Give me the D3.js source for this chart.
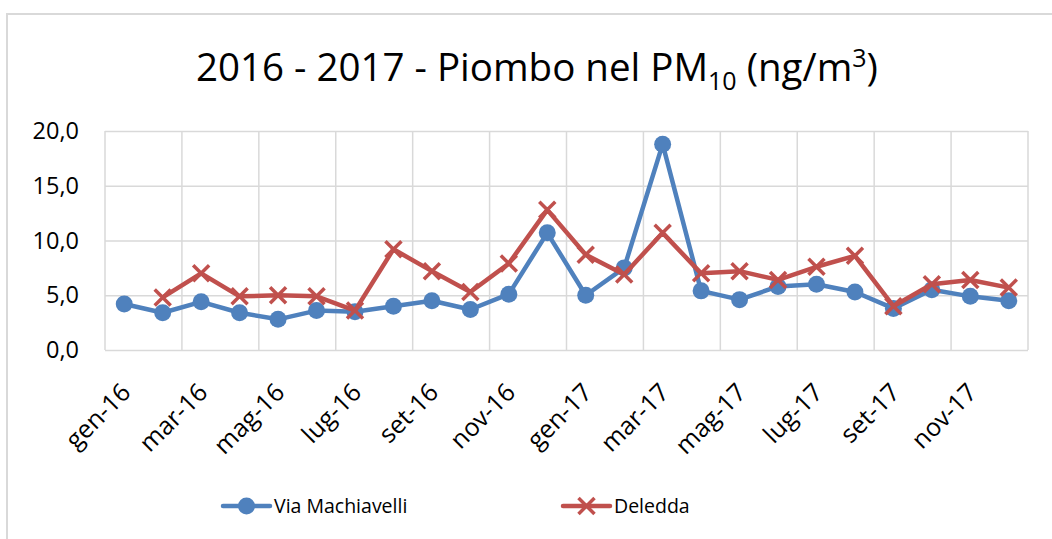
<!DOCTYPE html>
<meta charset="utf-8">
<script src="https://d3js.org/d3.v7.min.js"></script>
<div id="chart"></div>
<style>
	body {
		margin: 0;
		padding: 0;
		background: #fff;
		overflow: hidden;
	}
	text {
		font-family: "Open Sans", sans-serif;
		fill: #000;
	}
</style>
<script>
	// months shown on the category axis (Italian short names)
	const months = ["gen-16", "feb-16", "mar-16", "apr-16", "mag-16", "giu-16", "lug-16", "ago-16", "set-16", "ott-16", "nov-16", "dic-16",
		"gen-17", "feb-17", "mar-17", "apr-17", "mag-17", "giu-17", "lug-17", "ago-17", "set-17", "ott-17", "nov-17", "dic-17"];
	const machiavelli = [4.2, 3.4, 4.4, 3.4, 2.8, 3.6, 3.5, 4.0, 4.5, 3.7, 5.1, 10.7, 5.0, 7.5, 18.8, 5.4, 4.6, 5.8, 6.0, 5.3, 3.8, 5.5, 4.9, 4.5];
	const deledda = [null, 4.8, 7.0, 4.9, 5.0, 4.9, 3.6, 9.2, 7.2, 5.3, 7.9, 12.8, 8.7, 6.9, 10.7, 7.0, 7.2, 6.4, 7.6, 8.6, 4.0, 6.0, 6.4, 5.7];
	const yTicks = [0, 5, 10, 15, 20];
	const seriesNames = ["Via Machiavelli", "Deledda"];

	const WIDTH = 1052, HEIGHT = 539;
	const BLUE = "#4f81bd", RED = "#c0504d", GRID = "#d9d9d9";
	const plot = { left: 105, right: 1028, top: 131, bottom: 350 };

	const svg = d3.select("#chart").append("svg")
		.attr("width", WIDTH)
		.attr("height", HEIGHT);

	// outer chart border (cropped at right/bottom in the original)
	svg.append("rect")
		.attr("x", 7).attr("y", 14)
		.attr("width", WIDTH + 20).attr("height", HEIGHT + 20)
		.attr("fill", "none")
		.attr("stroke", GRID)
		.attr("stroke-width", 2);

	const x = d3.scaleBand().domain(months).range([plot.left, plot.right]).padding(0);
	const y = d3.scaleLinear().domain([0, 20]).range([plot.bottom, plot.top]);
	const itFormat = d3.formatLocale({ decimal: ",", thousands: ".", grouping: [3], currency: ["€", ""] }).format(".1f");

	// horizontal gridlines + y labels
	const yAxis = svg.append("g")
		.attr("transform", `translate(${plot.left},0)`)
		.call(d3.axisLeft(y).tickValues(yTicks).tickFormat(itFormat).tickSize(-(plot.right - plot.left)).tickPadding(26));
	yAxis.select(".domain").remove();
	yAxis.selectAll("line").attr("stroke", GRID).attr("stroke-width", 1.5);
	yAxis.selectAll("text").attr("font-size", 23.5).attr("fill", "#000").attr("font-family", "Open Sans");

	// vertical gridlines every two months
	const vLines = months.filter((m, i) => i % 2 === 0).map(m => x(m)).concat([plot.right]);
	svg.append("g").selectAll("line")
		.data(vLines)
		.join("line")
		.attr("x1", d => d).attr("x2", d => d)
		.attr("y1", plot.top).attr("y2", plot.bottom)
		.attr("stroke", GRID)
		.attr("stroke-width", 1.5);

	// category labels, rotated
	const cx = m => x(m) + x.bandwidth() / 2;
	svg.append("g").selectAll("text")
		.data(months.filter((m, i) => i % 2 === 0))
		.join("text")
		.attr("transform", d => `translate(${cx(d) + 8},${plot.bottom + 44}) rotate(-45)`)
		.attr("text-anchor", "end")
		.attr("font-size", 25)
		.text(d => d);

	const line = d3.line()
		.defined(d => d.v !== null)
		.x(d => cx(d.m))
		.y(d => y(d.v));

	const blueData = months.map((m, i) => ({ m, v: machiavelli[i] }));
	const redData = months.map((m, i) => ({ m, v: deledda[i] }));

	svg.append("path")
		.datum(blueData)
		.attr("d", line)
		.attr("fill", "none")
		.attr("stroke", BLUE)
		.attr("stroke-width", 4.5)
		.attr("stroke-linejoin", "round");
	svg.append("g").selectAll("circle")
		.data(blueData)
		.join("circle")
		.attr("cx", d => cx(d.m))
		.attr("cy", d => y(d.v))
		.attr("r", 8.5)
		.attr("fill", BLUE);

	svg.append("path")
		.datum(redData)
		.attr("d", line)
		.attr("fill", "none")
		.attr("stroke", RED)
		.attr("stroke-width", 4.5)
		.attr("stroke-linejoin", "round");
	const xMark = s => `M${-s},${-s}L${s},${s}M${-s},${s}L${s},${-s}`;
	svg.append("g").selectAll("path")
		.data(redData.filter(d => d.v !== null))
		.join("path")
		.attr("transform", d => `translate(${cx(d.m)},${y(d.v)})`)
		.attr("d", xMark(8))
		.attr("stroke", RED)
		.attr("stroke-width", 3.5)
		.attr("fill", "none");

	// title with subscript / superscript
	const title = svg.append("text")
		.attr("x", 537)
		.attr("y", 81)
		.attr("text-anchor", "middle")
		.attr("font-size", 38.5);
	title.append("tspan").text("2016 - 2017 - Piombo nel PM");
	title.append("tspan").attr("font-size", 25).attr("dy", 9).text("10");
	title.append("tspan").attr("dy", -9).text(" (ng/m");
	title.append("tspan").attr("font-size", 25).attr("dy", -14).text("3");
	title.append("tspan").attr("dy", 14).text(")");

	// legend
	const legend = svg.append("g").attr("transform", "translate(0,506)");
	const items = [
		{ name: seriesNames[0], color: BLUE, x: 223, marker: "circle" },
		{ name: seriesNames[1], color: RED, x: 563, marker: "x" }
	];
	items.forEach(it => {
		const g = legend.append("g").attr("transform", `translate(${it.x},0)`);
		g.append("line").attr("x1", 0).attr("x2", 47)
			.attr("stroke", it.color).attr("stroke-width", 4.5).attr("stroke-linecap", "round");
		if (it.marker === "circle") {
			g.append("circle").attr("cx", 23.5).attr("r", 8.5).attr("fill", it.color);
		} else {
			g.append("path").attr("transform", "translate(23.5,0)").attr("d", xMark(8))
				.attr("stroke", it.color).attr("stroke-width", 3.5);
		}
		g.append("text").attr("x", 51).attr("y", 7).attr("font-size", 19.5).text(it.name);
	});
</script>
